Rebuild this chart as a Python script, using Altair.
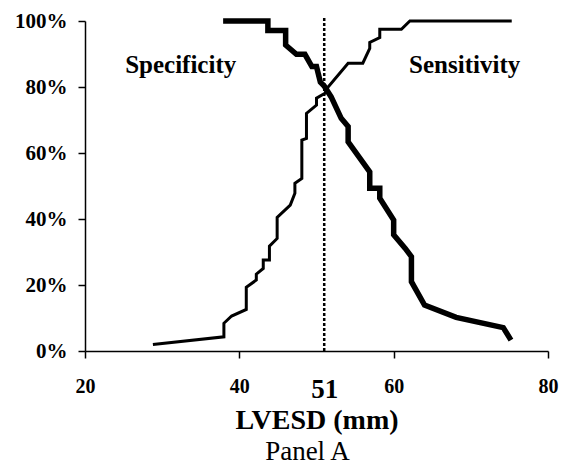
import altair as alt
import pandas as pd

# Rising curve (thin line)
rise_x = [28.8, 38.0, 38.0, 39.0, 40.9, 40.9, 42.2, 42.2, 43.1, 43.1, 43.9, 43.9,
          44.9, 44.9, 46.6, 47.2, 47.2, 48.1, 48.1, 48.7, 48.7, 50.0, 50.0, 51.1,
          51.5, 54.1, 56.0, 56.9, 56.9, 58.2, 58.2, 61.0, 62.1, 75.3]
rise_y = [2.0, 4.3, 8.4, 10.6, 12.6, 19.3, 21.5, 23.3, 25.0, 27.6, 27.6, 31.8,
          34.1, 40.5, 44.2, 47.8, 50.8, 52.3, 63.9, 64.4, 72.0, 74.5, 76.6, 78.1,
          80.0, 87.2, 87.2, 91.7, 93.5, 95.0, 97.5, 97.5, 100.0, 100.0]

# Falling curve (thick line)
fall_x = [37.9, 43.7, 43.7, 46.0, 46.0, 47.4, 48.5, 49.4, 50.0, 50.5, 51.0, 51.9,
          53.2, 54.1, 54.1, 56.9, 56.9, 58.2, 58.2, 60.0, 60.0, 61.5, 62.3, 62.3,
          64.0, 68.1, 74.2, 75.2]
fall_y = [100.0, 100.0, 97.1, 97.1, 92.7, 89.9, 89.9, 86.2, 86.2, 81.5, 80.3, 77.0,
          70.5, 68.0, 63.4, 54.3, 49.3, 49.3, 46.3, 39.7, 35.2, 31.1, 28.6, 21.0,
          13.9, 10.2, 7.1, 3.3]

x_ticks = [20, 40, 51, 60, 80]
y_ticks = [0, 20, 40, 60, 80, 100]
cutoff = 51

label_text = ["Specificity", "Sensitivity"]
label_x = [32.4, 69.2]
label_y = [86.7, 86.7]

rise = pd.DataFrame({"x": rise_x, "y": rise_y, "i": range(len(rise_x))})
fall = pd.DataFrame({"x": fall_x, "y": fall_y, "i": range(len(fall_x))})
labels = pd.DataFrame({"t": label_text, "x": label_x, "y": label_y})
cut = pd.DataFrame({"x": [cutoff], "y": [0], "y2": [101]})

SERIF = "Liberation Serif"

xscale = alt.Scale(domain=[20, 80], nice=False, zero=False)
yscale = alt.Scale(domain=[0, 100], nice=False)

xaxis = alt.Axis(
    values=x_ticks, title="LVESD (mm)", grid=False,
    labelFont=SERIF, labelFontWeight="bold", labelColor="black",
    labelFontSize={"condition": {"test": "datum.value == 51", "value": 27}, "value": 20},
    tickOpacity={"condition": {"test": "datum.value == 51", "value": 0}, "value": 1},
    tickSize=7, tickColor="black", tickWidth=1.5,
    domainColor="black", domainWidth=1.5,
    labelPadding=18, labelFlush=False,
    titleFont=SERIF, titleFontWeight="bold", titleFontSize=28, titleColor="black",
    titlePadding=4,
)
yaxis = alt.Axis(
    values=y_ticks, title=None, grid=False,
    labelExpr="datum.value + '%'",
    labelFont=SERIF, labelFontWeight="bold", labelFontSize=21, labelColor="black",
    tickSize=7, tickColor="black", tickWidth=1.5,
    domainColor="black", domainWidth=1.5,
    labelPadding=11,
)

base_x = alt.X("x:Q", scale=xscale, axis=xaxis)
base_y = alt.Y("y:Q", scale=yscale, axis=yaxis)

rise_line = alt.Chart(rise).mark_line(color="black", strokeWidth=3, strokeJoin="miter").encode(
    x=base_x, y=base_y, order="i:Q")
fall_line = alt.Chart(fall).mark_line(color="black", strokeWidth=5.5, strokeJoin="miter").encode(
    x="x:Q", y="y:Q", order="i:Q")
rule = alt.Chart(cut).mark_rule(color="black", strokeWidth=2.5, strokeDash=[3, 2]).encode(
    x="x:Q", y="y:Q", y2="y2:Q")
text = alt.Chart(labels).mark_text(font=SERIF, fontWeight="bold", fontSize=25,
                                   color="black", baseline="middle", align="center").encode(
    x="x:Q", y="y:Q", text="t:N")

chart = alt.layer(rule, rise_line, fall_line, text).properties(
    width=463, height=330,
    autosize=alt.AutoSizeParams(type="none"),
    padding={"left": 77, "top": 13, "right": 13, "bottom": 116},
    title=alt.TitleParams("Panel A", orient="bottom", font=SERIF, fontWeight="normal",
                          fontSize=27, color="black", anchor="middle", offset=5, dx=-9),
).configure_view(stroke=None)

chart.save("out.html", embed_options={"renderer": "svg", "actions": False})
